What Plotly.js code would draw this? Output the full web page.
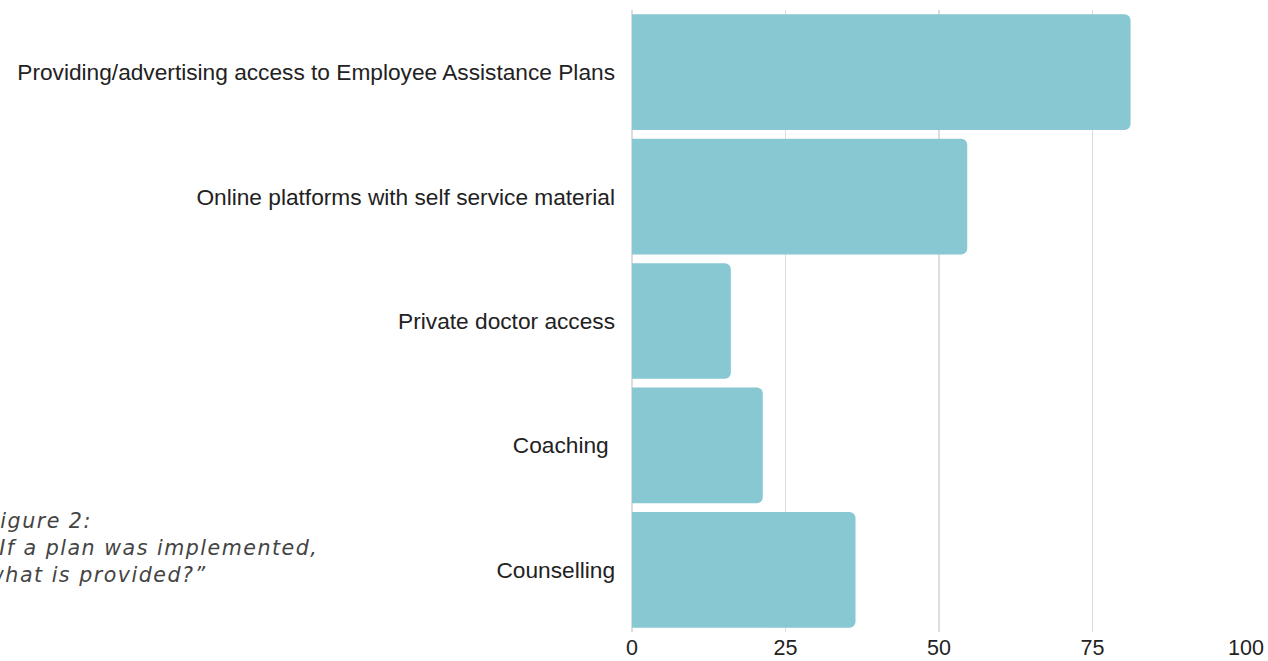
<!DOCTYPE html>
<html>
<head>
<meta charset="utf-8">
<script src="https://cdn.plot.ly/plotly-3.0.1.min.js"></script>
<style>
html,body{margin:0;padding:0;background:#fff;}
#chart{width:1268px;height:661px;}
#chart .annotation-text{letter-spacing:1.5px;}
</style>
</head>
<body>
<div id="chart"></div>
<script>
const categories = [
  "Providing/advertising access to Employee Assistance Plans",
  "Online platforms with self service material",
  "Private doctor access",
  "Coaching\u00a0",
  "Counselling"
];
const values = [81.2, 54.6, 16.1, 21.3, 36.4];
const xTickValues = [0, 25, 50, 75, 100];
const captionLines = ["Figure 2:", "\u201cIf a plan was implemented,", "what is provided?\u201d"];

const trace = {
  type: "bar",
  orientation: "h",
  y: categories,
  x: values,
  marker: {color: "#87c8d2", line: {width: 0}},
  hoverinfo: "x+y"
};

const layout = {
  width: 1268,
  height: 661,
  margin: {l: 632, r: 22, t: 10, b: 29},
  paper_bgcolor: "#ffffff",
  plot_bgcolor: "#ffffff",
  showlegend: false,
  bargap: 0.07,
  barcornerradius: 6,
  font: {family: "Liberation Sans", size: 22.7, color: "#222222"},
  xaxis: {
    range: [0, 100],
    tickvals: xTickValues,
    ticktext: xTickValues.map(String),
    showgrid: true,
    gridcolor: "#dddddd",
    gridwidth: 1.5,
    zeroline: true,
    zerolinecolor: "#dddddd",
    zerolinewidth: 1.5,
    showline: false,
    ticks: "",
    tickfont: {family: "Liberation Sans", size: 21.5, color: "#222222"},
    fixedrange: true
  },
  yaxis: {
    autorange: "reversed",
    type: "category",
    showgrid: false,
    zeroline: false,
    showline: false,
    ticks: "",
    ticklabelstandoff: 16,
    tickfont: {family: "Liberation Sans", size: 22.7, color: "#222222"},
    fixedrange: true
  },
  annotations: [{
    xref: "paper", yref: "paper",
    x: (-15 - 632) / 614, y: 0.201,
    xanchor: "left", yanchor: "top",
    align: "left",
    showarrow: false,
    text: "<i>" + captionLines.join("<br>") + "</i>",
    font: {family: "DejaVu Sans", size: 20.6, weight: 200, color: "#444444"}
  }]
};

Plotly.newPlot("chart", [trace], layout, {displayModeBar: false, staticPlot: true});
</script>
</body>
</html>
